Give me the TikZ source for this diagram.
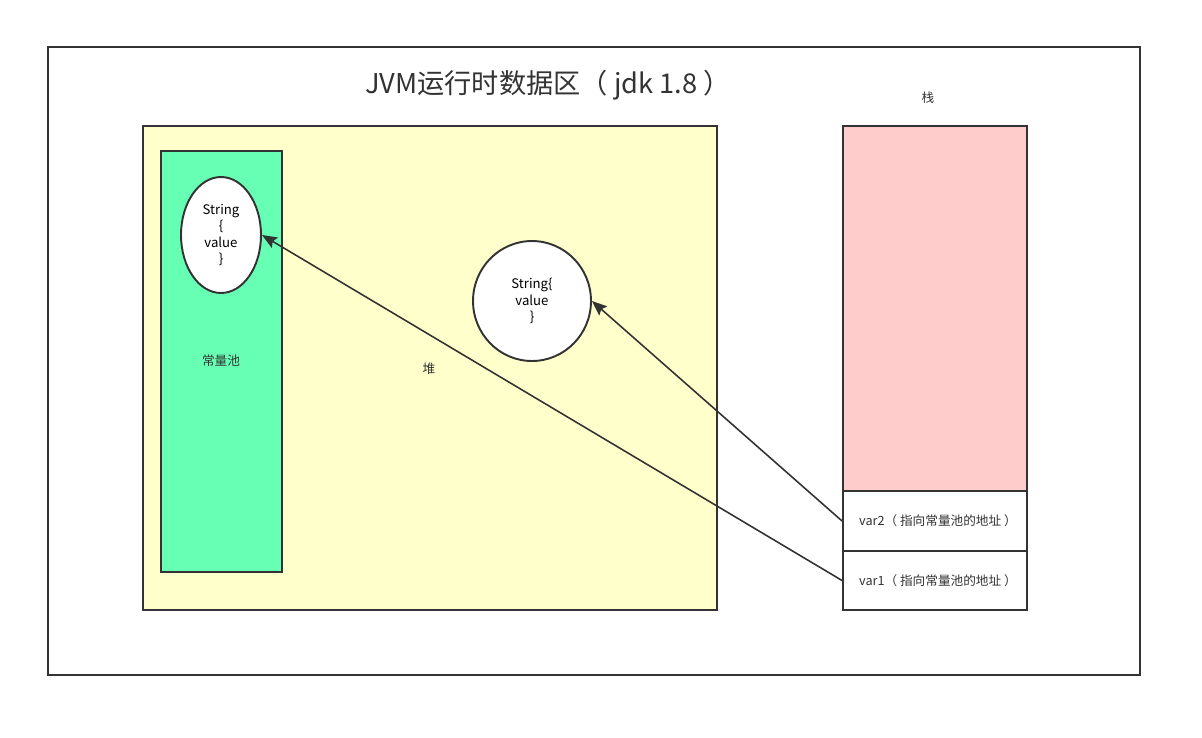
\documentclass[tikz,border=0pt]{standalone}
\usepackage{fontspec}
\setmainfont{Noto Sans CJK SC}
\usepackage{xcolor}
\usetikzlibrary{arrows.meta,positioning,shapes.geometric}
\definecolor{Ink}{HTML}{333333}
\definecolor{HeapYellow}{HTML}{FFFFCC}
\definecolor{PoolGreen}{HTML}{66FFB3}
\definecolor{StackPink}{HTML}{FFCCCC}

\begin{document}
\begin{tikzpicture}[
  x=0.02cm,y=-0.02cm,
  area/.style={draw=Ink,line width=1.1pt,inner sep=0pt},
  obj/.style={ellipse,draw=Ink,line width=1.1pt,fill=white,inner sep=0pt,align=center,font=\fontsize{7.5}{9.4}\selectfont},
  tag/.style={font=\fontsize{7.2}{8}\selectfont,text=Ink},
  arrow/.style={-{Stealth[length=3mm,width=2.4mm,inset=0.5mm]},line width=0.9pt,color=Ink}
]
\fill[white] (0,0) rectangle (1202,737);
\useasboundingbox (0,0) rectangle (1202,737);

% outer frame and title
\node[area,minimum width=21.84cm,minimum height=12.56cm] (jvm) at (594,361) {};
\node[font=\fontsize{15.5}{18}\selectfont,text=Ink] (title) at (548,85) {JVM运行时数据区（ jdk 1.8 ）};

% heap with constant pool
\node[area,fill=HeapYellow,minimum width=11.48cm,minimum height=9.68cm] (heap) at (430,368) {};
\node[area,fill=PoolGreen,minimum width=2.42cm,minimum height=8.42cm] (pool) at (221.5,361.5) {};
\node[tag] (poolname) at (221,361) {常量池};
\node[tag] (heapname) at (429,369) {堆};
\node[obj,minimum width=1.6cm,minimum height=2.32cm] (poolstr) at (221,235) {String\\\{\\value\\\}};
\node[obj,minimum width=2.36cm,minimum height=2.4cm] (heapstr) at (532,301) {String\{\\value\\\}};

% stack
\node[tag] (stackname) at (928,98) {栈};
\node[area,fill=StackPink,minimum width=3.68cm,minimum height=7.3cm] (stack) at (935,308.5) {};
\node[area,fill=white,minimum width=3.68cm,minimum height=1.2cm] (var2) at (935,521) {};
\node[area,fill=white,minimum width=3.68cm,minimum height=1.18cm] (var1) at (935,580.5) {};
\node[tag,anchor=west] (var2text) at (853,521) {var2（ 指向常量池的地址 ）};
\node[tag,anchor=west] (var1text) at (853,580.5) {var1（ 指向常量池的地址 ）};

\draw[arrow] (var2.west) -- (heapstr.east);
\draw[arrow] (var1.west) -- (poolstr.east);
\end{tikzpicture}
\end{document}
